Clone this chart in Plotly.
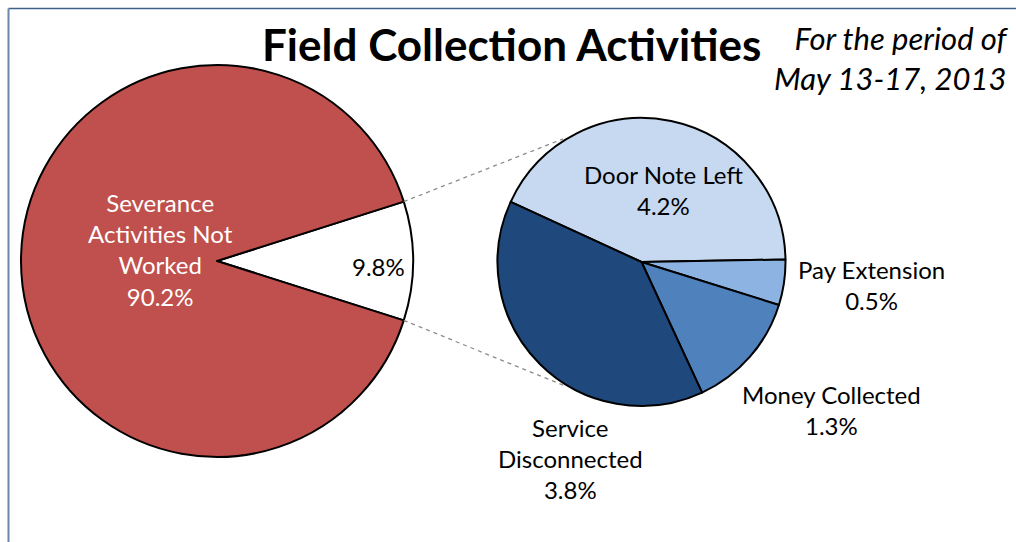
import math
import plotly.graph_objects as go

# ---- data ----
main_labels = ["Severance Activities Not Worked", "Field Collection Activities"]
main_values = [90.2, 9.8]
sub_labels = ["Door Note Left", "Pay Extension", "Money Collected", "Service Disconnected"]
sub_values = [4.2, 0.5, 1.3, 3.8]

main_colors = ["#C0504D", "#FFFFFF"]
sub_colors = ["#C6D9F1", "#8DB3E2", "#4F81BD", "#1F497D"]

W, H = 1016, 542
FONT = "Lato"

# geometry (pixels)
L_CX, L_CY, L_R = 217, 261, 196
R_CX, R_CY, R_R = 641.5, 262, 144


def dom(cx, cy, r):
    return dict(x=[(cx - r) / W, (cx + r) / W], y=[(H - cy - r) / H, (H - cy + r) / H])


other = main_values[1]
half = other / sum(main_values) * 360 / 2  # half angle of the exploded slice

fig = go.Figure()
fig.add_trace(go.Pie(
    labels=[main_labels[1], main_labels[0]],
    values=[main_values[1], main_values[0]],
    marker=dict(colors=[main_colors[1], main_colors[0]], line=dict(color="black", width=2)),
    sort=False, direction="clockwise", rotation=90 - half,
    textinfo="none", hoverinfo="label+value", domain=dom(L_CX, L_CY, L_R), showlegend=False,
))

sub_total = sum(sub_values)
door_deg = sub_values[0] / sub_total * 360
end_angle = 1.0  # math angle where Door Note Left ends
start_math = end_angle + door_deg
fig.add_trace(go.Pie(
    labels=sub_labels, values=sub_values,
    marker=dict(colors=sub_colors, line=dict(color="black", width=2)),
    sort=False, direction="clockwise", rotation=90 - start_math,
    textinfo="none", hoverinfo="label+value", domain=dom(R_CX, R_CY, R_R), showlegend=False,
))

shapes = []
for sgn, ang in [(1, 122.5), (-1, -122.5)]:
    x0 = L_CX + L_R * math.cos(math.radians(sgn * half))
    y0 = L_CY - L_R * math.sin(math.radians(sgn * half))
    x1 = R_CX + (R_R + 2) * math.cos(math.radians(ang))
    y1 = R_CY - (R_R + 2) * math.sin(math.radians(ang))
    shapes.append(dict(type="line", xref="paper", yref="paper",
                       x0=x0 / W, y0=1 - y0 / H, x1=x1 / W, y1=1 - y1 / H,
                       line=dict(color="#8C8C8C", width=1.3, dash="4px,4px")))
shapes.append(dict(type="line", xref="paper", yref="paper", x0=8.5 / W, x1=1.0, y0=1 - 8.5 / H, y1=1 - 8.5 / H,
                   line=dict(color="#3E5F8A", width=1.5)))
shapes.append(dict(type="line", xref="paper", yref="paper", x0=8.5 / W, x1=8.5 / W, y0=0, y1=1 - 8.5 / H,
                   line=dict(color="#6D86AE", width=2)))

annotations = []


def ann(text, x, y, color="black", size=24, xanchor="center", align="center"):
    annotations.append(dict(text=text, x=x / W, y=1 - y / H, xref="paper", yref="paper",
                            xanchor=xanchor, yanchor="middle", align=align,
                            showarrow=False, font=dict(family=FONT, size=size, color=color)))


def pct(v):
    return f"{v:.1f}%"


ann("<b>" + main_labels[1] + "</b>", 511, 44, size=44)
ann("<i>For the period of<br>May 13-17, 2013</i>", 1011, 58, size=31, xanchor="right", align="right")
ann("Severance<br>Activities Not<br>Worked<br>" + pct(main_values[0]), 160, 249, color="white")
ann(pct(main_values[1]), 378, 266)
ann("Door Note Left<br>" + pct(sub_values[0]), 663, 190)
ann("Pay Extension<br>" + pct(sub_values[1]), 871, 285)
ann("Money Collected<br>" + pct(sub_values[2]), 831, 410)
ann("Service<br>Disconnected<br>" + pct(sub_values[3]), 570, 458)

fig.update_layout(
    width=W, height=H, margin=dict(l=0, r=0, t=0, b=0),
    paper_bgcolor="white", plot_bgcolor="white",
    shapes=shapes, annotations=annotations, font=dict(family=FONT),
)
fig.write_html("out.html")
